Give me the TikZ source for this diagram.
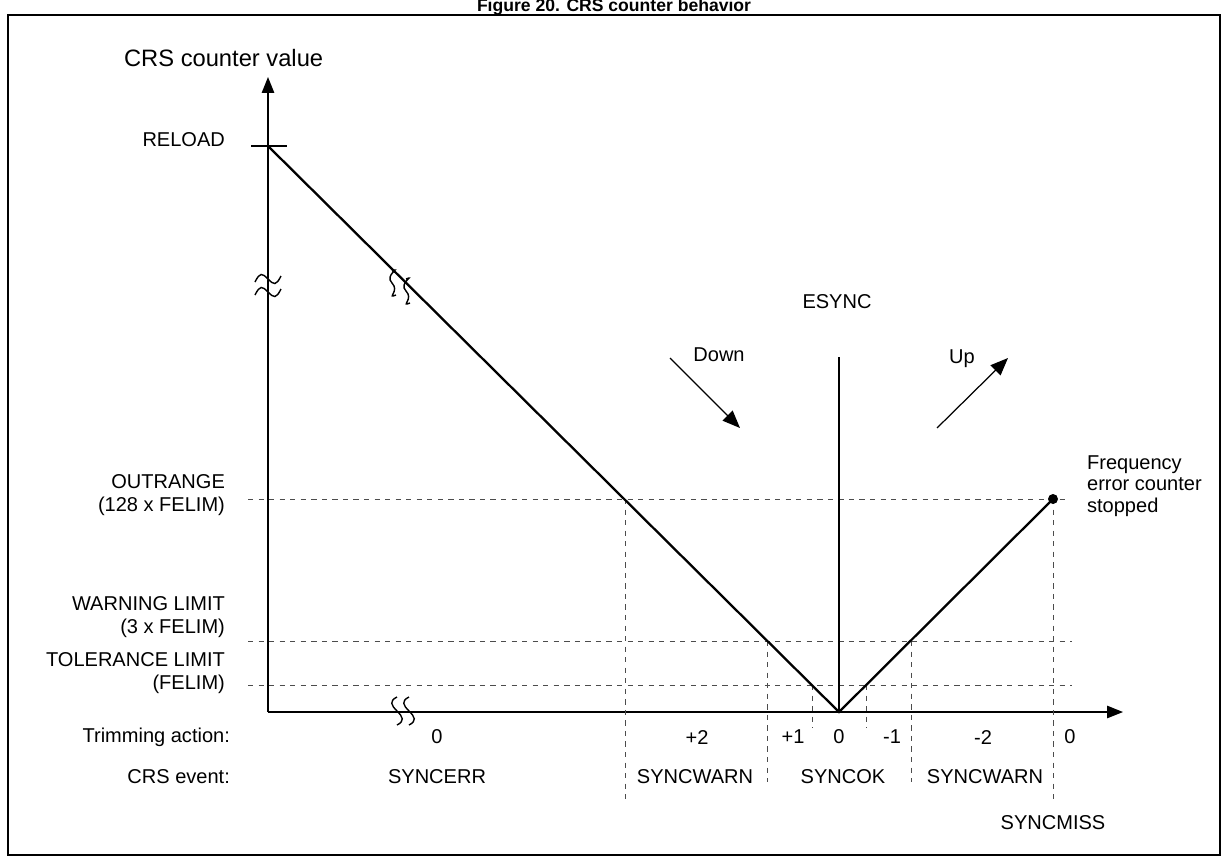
\documentclass[tikz,border=0pt]{standalone}
\usepackage{fontspec}
\setmainfont{Liberation Sans}
\usetikzlibrary{arrows.meta, positioning}
\begin{document}
\begin{tikzpicture}[
    x=0.02cm, y=-0.02cm,
    every node/.style={font=\fontsize{11.4}{13}\selectfont, inner sep=1pt},
    axis/.style={line width=0.8pt, -{Triangle[length=9pt,width=7pt]}},
    curve/.style={line width=1.3pt},
    guide/.style={dashed, line width=0.4pt, gray!60!black},
    brk/.style={line width=0.8pt},
    hint/.style={line width=0.7pt, -{Triangle[length=10pt,width=8pt]}}
  ]
  \useasboundingbox (0,0) rectangle (1229,862);
  % Frame and title
  \draw[line width=0.6pt] (8,15) rectangle (1220,855);
  \node[font=\bfseries\fontsize{10}{12}\selectfont, inner sep=0pt] (title) at (614,7) {Figure 20. CRS counter behavior};

  % Axes
  \coordinate (origin) at (268,712);
  \coordinate (ytip) at (268,77);
  \coordinate (xtip) at (1123,712);
  \draw[axis] (origin) -- (ytip);
  \draw[axis] (origin) -- (xtip);
  \node[anchor=west, font=\fontsize{13.5}{15}\selectfont] (ylab) at (122,58) {CRS counter value};

  % Levels
  \coordinate (reload) at (268,146);
  \coordinate (zero) at (839,712);
  \coordinate (stop) at (1053,499);
  \draw[line width=0.6pt] (251,146) -- (287,146);
  \draw[guide] (248,499) -- (1070,499);
  \draw[guide] (248,641) -- (1072,641);
  \draw[guide] (248,685) -- (1072,685);

  % Vertical limits
  \foreach \x/\ya/\yb in {625/499/800, 767/641/782, 812/685/728, 866/685/728, 911/641/782, 1053/499/799}
    \draw[guide] (\x,\ya) -- (\x,\yb);

  % Counter
  \draw[curve] (reload) -- (zero) -- (stop);
  \fill (stop) circle (5);
  \draw[line width=0.8pt] (839,357) -- (zero);
  \node (esync) at (837,302) {ESYNC};

  % Direction hints
  \node (down) at (719,355) {Down};
  \node (up) at (962,359) {Up};
  \draw[hint] (670,358) -- (740,428);
  \draw[hint] (937,428) -- (1008,358);

  % Break marks
  \foreach \p in {(268,279), (268,292)}
    \draw[brk, fill=white] \p ++(-13,3) .. controls +(5,-10) and +(-6,-6) .. ++(13,-3) .. controls +(6,6) and +(-5,10) .. ++(13,-3);
  \foreach \p in {(396,283), (410,291)}
    \draw[brk] \p ++(-4,-12) .. controls +(10,-4) and +(-8,-8) .. ++(0,12) .. controls +(8,8) and +(-10,4) .. ++(4,12);
  \foreach \p in {(398,711), (410,711)}
    \draw[brk] \p ++(-1,-14) .. controls +(-8,4) and +(-6,-6) .. ++(0,14) .. controls +(6,6) and +(8,-4) .. ++(0,14);

  % Level labels
  \node[anchor=east] (lreload) at (227,140) {RELOAD};
  \node[align=right, anchor=east] (lout) at (227,495) {OUTRANGE\\(128 x FELIM)};
  \node[align=right, anchor=east] (lwarn) at (227,617) {WARNING LIMIT\\(3 x FELIM)};
  \node[align=right, anchor=east] (ltol) at (227,673) {TOLERANCE LIMIT\\(FELIM)};
  \node[align=left, anchor=west, font=\fontsize{11.4}{12.4}\selectfont] (lstop) at (1085,486) {Frequency\\error counter\\stopped};

  % Trimming action and CRS event
  \node[anchor=east] (ltrim) at (232,737) {Trimming action:};
  \node[anchor=east] (levent) at (232,777) {CRS event:};
  \foreach \x/\t in {437/0, 697/+2, 793/+1, 839/0, 892/-1, 983/-2, 1070/0}
    \node at (\x,737) {\t};
  \foreach \x/\t in {437/SYNCERR, 695/SYNCWARN, 843/SYNCOK, 985/SYNCWARN}
    \node at (\x,777) {\t};
  \node (miss) at (1053,823) {SYNCMISS};
\end{tikzpicture}
\end{document}
